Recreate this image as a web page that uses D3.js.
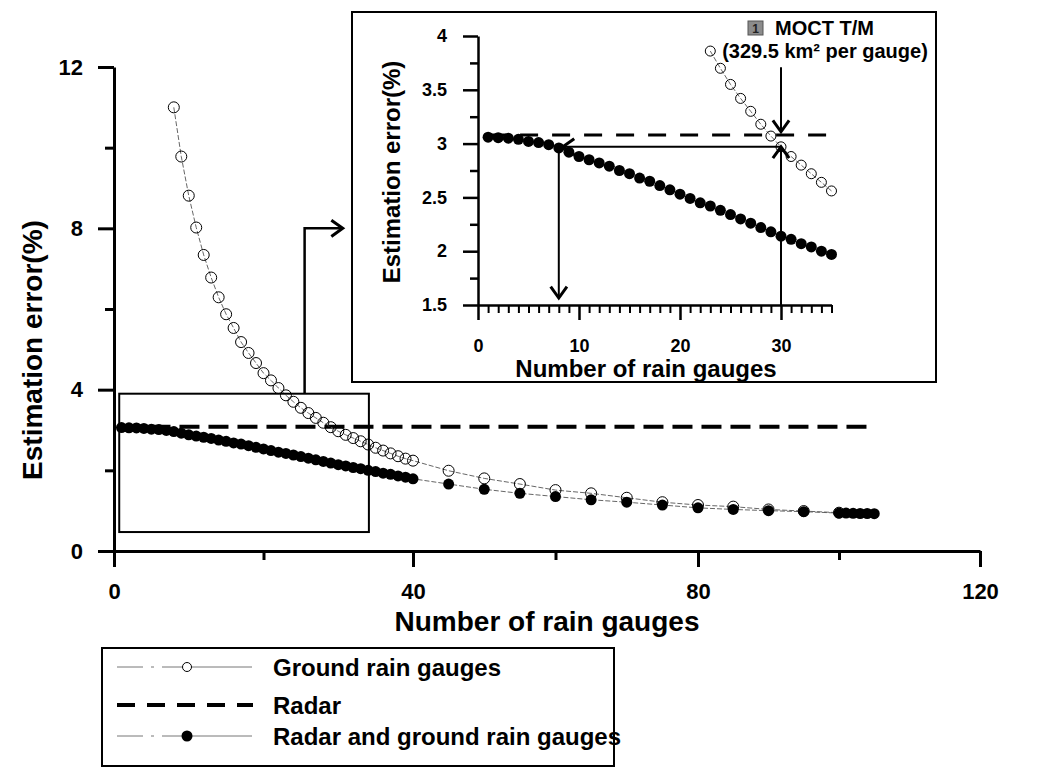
<!DOCTYPE html>
<html>
<head>
<meta charset="utf-8">
<script src="https://cdn.jsdelivr.net/npm/d3@7"></script>
<style>
  body { margin: 0; background: #fff; }
  svg text { font-family: "Liberation Sans", Arial, sans-serif; font-weight: bold; fill: #000; }
</style>
</head>
<body>
<svg id="chart" width="1037" height="767"></svg>
<script>
// ground rain gauges only (open circles)
const gaugeX = [8, 9, 10, 11, 12, 13, 14, 15, 16, 17, 18, 19, 20, 21, 22, 23, 24, 25, 26, 27, 28, 29, 30,
  31, 32, 33, 34, 35, 36, 37, 38, 39, 40, 45, 50, 55, 60, 65, 70, 75, 80, 85, 90, 95, 100];
const gaugeErr = [11.0, 9.78, 8.81, 8.02, 7.34, 6.78, 6.29, 5.87, 5.53, 5.18, 4.91, 4.66, 4.41, 4.23, 4.04,
  3.86, 3.70, 3.55, 3.42, 3.30, 3.18, 3.07, 2.97, 2.88, 2.80, 2.72, 2.64, 2.56, 2.49, 2.42, 2.35, 2.29, 2.24,
  1.99, 1.80, 1.66, 1.51, 1.43, 1.32, 1.21, 1.14, 1.10, 1.03, 0.99, 0.95];

// radar + ground rain gauges (filled circles)
const comboX = [1, 2, 3, 4, 5, 6, 7, 8, 9, 10, 11, 12, 13, 14, 15, 16, 17, 18, 19, 20, 21, 22, 23, 24, 25,
  26, 27, 28, 29, 30, 31, 32, 33, 34, 35, 36, 37, 38, 39, 40, 45, 50, 55, 60, 65, 70, 75, 80, 85, 90, 95,
  100, 101, 102, 103, 104, 105];
const comboErr = [3.06, 3.055, 3.05, 3.04, 3.02, 3.01, 2.99, 2.96, 2.92, 2.88, 2.85, 2.82, 2.79, 2.75, 2.72,
  2.68, 2.65, 2.61, 2.57, 2.53, 2.49, 2.45, 2.42, 2.38, 2.34, 2.30, 2.26, 2.22, 2.18, 2.14, 2.11, 2.07, 2.04,
  2.00, 1.97, 1.93, 1.90, 1.86, 1.83, 1.79, 1.66, 1.53, 1.43, 1.35, 1.27, 1.21, 1.14, 1.07, 1.03, 1.00, 0.975,
  0.94, 0.94, 0.935, 0.93, 0.93, 0.925];

// radar only (constant)
const radarErr = 3.08;
const radarSpanMain = [1, 104];
const radarSpanInset = [1, 35];

const mainXTicks = [0, 40, 80, 120];
const mainXMinor = [20, 60, 100];
const mainYTicks = [0, 4, 8, 12];
const mainYMinor = [2, 6, 10];
const insetXTicks = [0, 10, 20, 30];
const insetYTicks = [1.5, 2, 2.5, 3, 3.5, 4];
const insetYMinor = [1.75, 2.25, 2.75, 3.25, 3.75];

const legendLabels = ["Ground rain gauges", "Radar", "Radar and ground rain gauges"];

const gauges = gaugeX.map((x, i) => ({ x, y: gaugeErr[i] }));
const combo = comboX.map((x, i) => ({ x, y: comboErr[i] }));

const svg = d3.select("#chart");

// ---------- main panel ----------
const x = d3.scaleLinear().domain([0, 40, 80, 120]).range([114, 413, 698, 980]);
const y = d3.scaleLinear().domain([0, 12]).range([551, 67]);

const axisStyle = (g, w) => {
  g.selectAll("path, line").attr("stroke", "#000").attr("stroke-width", w);
};

svg.append("g").attr("transform", `translate(0,${y(0)})`)
  .call(d3.axisBottom(x).tickValues(mainXMinor).tickSize(9).tickFormat(""))
  .call(g => g.select(".domain").remove())
  .call(g => axisStyle(g, 3));
svg.append("g").attr("transform", `translate(${x(0)},0)`)
  .call(d3.axisLeft(y).tickValues(mainYMinor).tickSize(9).tickFormat(""))
  .call(g => g.select(".domain").remove())
  .call(g => axisStyle(g, 3));

svg.append("g").attr("transform", `translate(0,${y(0)})`)
  .call(d3.axisBottom(x).tickValues(mainXTicks).tickSize(16).tickSizeOuter(0).tickPadding(16))
  .call(g => axisStyle(g, 3))
  .call(g => g.selectAll("text").attr("font-size", 22));
svg.append("g").attr("transform", `translate(${x(0)},0)`)
  .call(d3.axisLeft(y).tickValues(mainYTicks).tickSize(16).tickSizeOuter(0).tickPadding(15))
  .call(g => axisStyle(g, 3))
  .call(g => g.selectAll("text").attr("font-size", 22));

svg.append("text").attr("x", 547).attr("y", 631).attr("text-anchor", "middle")
  .attr("font-size", 28).text("Number of rain gauges");
svg.append("text").attr("transform", "translate(42,350) rotate(-90)").attr("text-anchor", "middle")
  .attr("font-size", 28).text("Estimation error(%)");

const linkStyle = sel => sel.attr("fill", "none").attr("stroke", "#555")
  .attr("stroke-width", 0.9).attr("stroke-dasharray", "5,2");

function drawSeries(g, sx, sy, gData, cData, radarSpan, rOpen, rFill, dashW, dashArr) {
  const line = d3.line().x(d => sx(d.x)).y(d => sy(d.y));
  g.append("path").datum([{ x: radarSpan[0], y: radarErr }, { x: radarSpan[1], y: radarErr }])
    .attr("d", line).attr("fill", "none").attr("stroke", "#000")
    .attr("stroke-width", dashW).attr("stroke-dasharray", dashArr);
  g.append("path").datum(gData).attr("d", line).call(linkStyle);
  g.append("path").datum(cData).attr("d", line).call(linkStyle);
  g.selectAll(null).data(gData).enter().append("circle")
    .attr("cx", d => sx(d.x)).attr("cy", d => sy(d.y)).attr("r", rOpen)
    .attr("fill", "none").attr("stroke", "#000").attr("stroke-width", 1);
  g.selectAll(null).data(cData).enter().append("circle")
    .attr("cx", d => sx(d.x)).attr("cy", d => sy(d.y)).attr("r", rFill)
    .attr("fill", "#000");
}

drawSeries(svg.append("g"), x, y, gauges, combo, radarSpanMain, 5.5, 5.5, 4, "20,9");

// zoom box and connector arrow
const zoomBox = { x0: 0.7, x1: 34.1, y0: 0.47, y1: 3.9 };
svg.append("rect")
  .attr("x", x(zoomBox.x0)).attr("y", y(zoomBox.y1))
  .attr("width", x(zoomBox.x1) - x(zoomBox.x0)).attr("height", y(zoomBox.y0) - y(zoomBox.y1))
  .attr("fill", "none").attr("stroke", "#000").attr("stroke-width", 2);

function arrowHead(g, tx, ty, angle, len, w) {
  const a = angle * Math.PI / 180, s = 0.62;
  const p1 = [tx - len * Math.cos(a - s), ty - len * Math.sin(a - s)];
  const p2 = [tx - len * Math.cos(a + s), ty - len * Math.sin(a + s)];
  g.append("path").attr("d", `M${p1}L${tx},${ty}L${p2}`)
    .attr("fill", "none").attr("stroke", "#000").attr("stroke-width", w)
    .attr("stroke-linejoin", "miter");
}

const conn = [[25.5, zoomBox.y1], [25.5, 8.0], [30.6, 8.0]];
svg.append("path").attr("d", d3.line().x(d => x(d[0])).y(d => y(d[1]))(conn))
  .attr("fill", "none").attr("stroke", "#000").attr("stroke-width", 2.5);
arrowHead(svg, x(30.6), y(8.0), 0, 14, 3);

// ---------- inset ----------
svg.append("rect").attr("x", 352).attr("y", 12).attr("width", 584).attr("height", 370)
  .attr("fill", "#fff").attr("stroke", "#000").attr("stroke-width", 2);

const ix = d3.scaleLinear().domain([0, 35]).range([478, 831.5]);
const iy = d3.scaleLinear().domain([1.5, 4]).range([305, 36]);
const ins = svg.append("g");

ins.append("g").attr("transform", `translate(0,${iy(1.5)})`)
  .call(d3.axisBottom(ix).tickValues(d3.range(1, 36).filter(v => v % 10)).tickSize(8).tickFormat(""))
  .call(g => g.select(".domain").remove())
  .call(g => axisStyle(g, 2));
ins.append("g").attr("transform", `translate(${ix(0)},0)`)
  .call(d3.axisLeft(iy).tickValues(insetYMinor).tickSize(8).tickFormat(""))
  .call(g => g.select(".domain").remove())
  .call(g => axisStyle(g, 2.5));
ins.append("g").attr("transform", `translate(0,${iy(1.5)})`)
  .call(d3.axisBottom(ix).tickValues(insetXTicks).tickSize(15).tickSizeOuter(0).tickPadding(19))
  .call(g => axisStyle(g, 2.5))
  .call(g => g.selectAll("text").attr("font-size", 18));
ins.append("g").attr("transform", `translate(${ix(0)},0)`)
  .call(d3.axisLeft(iy).tickValues(insetYTicks).tickSize(15).tickSizeOuter(0).tickPadding(16)
    .tickFormat(d => d))
  .call(g => axisStyle(g, 2.5))
  .call(g => g.selectAll("text").attr("font-size", 18));

ins.append("text").attr("x", 646).attr("y", 377).attr("text-anchor", "middle")
  .attr("font-size", 24).text("Number of rain gauges");
ins.append("text").attr("transform", "translate(400,172) rotate(-90)").attr("text-anchor", "middle")
  .attr("font-size", 24).text("Estimation error(%)");

const gIn = gauges.filter(d => d.x <= 35 && d.y <= 4);
const cIn = combo.filter(d => d.x <= 35);
drawSeries(ins.append("g"), ix, iy, gIn, cIn, radarSpanInset, 5, 5.5, 3, "18,14");

// reading arrows
const cross = 2.97;
const arrowLine = pts => ins.append("path")
  .attr("d", d3.line().x(d => ix(d[0])).y(d => iy(d[1]))(pts))
  .attr("fill", "none").attr("stroke", "#000").attr("stroke-width", 2);
arrowLine([[30, 1.5], [30, cross]]);
arrowHead(ins, ix(30), iy(cross), -90, 14, 3);
arrowLine([[30, cross], [8.4, cross]]);
arrowHead(ins, ix(8.4), iy(cross), 180, 14, 3);
arrowLine([[8, cross], [8, 1.565]]);
arrowHead(ins, ix(8), iy(1.565), 90, 14, 3);
arrowLine([[30, 3.71], [30, 3.11]]);
arrowHead(ins, ix(30), iy(3.11), 90, 14, 3);

// MOCT label
ins.append("rect").attr("x", 748).attr("y", 21).attr("width", 15).attr("height", 14)
  .attr("fill", "#8c8c8c").attr("stroke", "#555").attr("stroke-width", 1);
ins.append("text").attr("x", 755.5).attr("y", 33).attr("text-anchor", "middle")
  .attr("font-size", 12).style("fill", "#222").text("1");
ins.append("text").attr("x", 775).attr("y", 35).attr("font-size", 20).text("MOCT T/M");
ins.append("text").attr("x", 825).attr("y", 58).attr("text-anchor", "middle")
  .attr("font-size", 20).text("(329.5 km² per gauge)");

// ---------- legend ----------
const leg = svg.append("g");
leg.append("rect").attr("x", 102).attr("y", 648).attr("width", 512).attr("height", 118)
  .attr("fill", "#fff").attr("stroke", "#000").attr("stroke-width", 2);
const legY = [667, 705, 736];
leg.selectAll(null).data(legendLabels).enter().append("text")
  .attr("x", 273).attr("y", (d, i) => legY[i]).attr("dy", "0.36em")
  .attr("font-size", 24).text(d => d);
[0, 2].forEach(i => {
  leg.append("line").attr("x1", 117).attr("x2", 252).attr("y1", legY[i]).attr("y2", legY[i])
    .attr("stroke", "#777").attr("stroke-width", 1).attr("stroke-dasharray", "26,8,3,8,100");
});
leg.append("line").attr("x1", 117).attr("x2", 253).attr("y1", legY[1]).attr("y2", legY[1])
  .attr("stroke", "#000").attr("stroke-width", 4).attr("stroke-dasharray", "18,12");
leg.append("circle").attr("cx", 187).attr("cy", legY[0]).attr("r", 4.5)
  .attr("fill", "#fff").attr("stroke", "#000").attr("stroke-width", 1);
leg.append("circle").attr("cx", 187).attr("cy", legY[2]).attr("r", 5.5).attr("fill", "#000");
</script>
</body>
</html>
